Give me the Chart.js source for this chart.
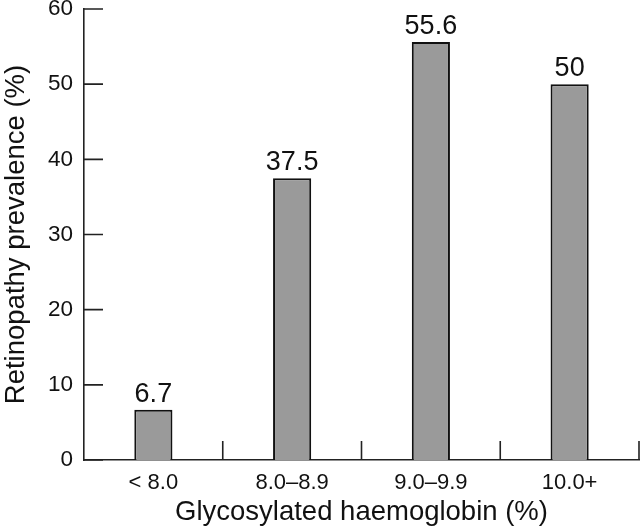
<!DOCTYPE html>
<html>
<head>
<meta charset="utf-8">
<script src="https://cdn.jsdelivr.net/npm/chart.js@4.4.1/dist/chart.umd.min.js"></script>
<style>
  html, body { margin: 0; padding: 0; background: #fff; }
  #wrap { width: 640px; height: 530px; }
</style>
</head>
<body>
<div id="wrap"><canvas id="retChart" width="640" height="530"></canvas></div>
<script>
// categories and values
const categories = ['< 8.0', '8.0\u20138.9', '9.0\u20139.9', '10.0+'];
const prevalence = [6.7, 37.5, 55.6, 50];
const valueLabels = ['6.7', '37.5', '55.6', '50'];
const yTicks = [0, 10, 20, 30, 40, 50, 60];

const FONT = "'Liberation Sans', Arial, Helvetica, sans-serif";

// inward tick marks + value labels over the bars
const ticksAndLabels = {
    id: 'ticksAndLabels',
    afterDraw(chart) {
        const ctx = chart.ctx;
        const area = chart.chartArea;
        const x = chart.scales.x;
        const y = chart.scales.y;
        ctx.save();
        ctx.strokeStyle = '#222';
        ctx.lineWidth = 1.6;
        ctx.beginPath();
        yTicks.forEach(v => {
            const py = y.getPixelForValue(v);
            ctx.moveTo(area.left, py);
            ctx.lineTo(area.left + 19, py);
        });
        for (let i = 0; i < categories.length; i++) {
            const px = x.getPixelForValue(i + 0.5);
            ctx.moveTo(px, area.bottom);
            ctx.lineTo(px, area.bottom - 19);
        }
        ctx.stroke();

        ctx.fillStyle = '#111';
        ctx.font = '27px ' + FONT;
        ctx.textAlign = 'center';
        ctx.textBaseline = 'alphabetic';
        chart.getDatasetMeta(0).data.forEach((bar, i) => {
            ctx.fillText(valueLabels[i], bar.x, bar.y - 8);
        });
        ctx.restore();
    }
};

const ctx = document.getElementById('retChart').getContext('2d');
const retChart = new Chart(ctx, {
    type: 'bar',
    data: {
        labels: categories,
        datasets: [{
            data: prevalence,
            backgroundColor: '#9a9a9a',
            borderColor: '#111',
            borderWidth: 2,
            borderSkipped: 'bottom',
            categoryPercentage: 1,
            barPercentage: 0.275
        }]
    },
    options: {
        responsive: false,
        animation: false,
        devicePixelRatio: 1,
        layout: { padding: { top: 9, right: 1, left: 0, bottom: 0 } },
        plugins: {
            legend: { display: false },
            tooltip: { enabled: false }
        },
        scales: {
            x: {
                offset: true,
                grid: { display: false, drawTicks: false },
                border: { display: true, color: '#222', width: 1.6 },
                ticks: {
                    color: '#111',
                    font: { family: FONT, size: 22 },
                    padding: 10,
                    maxRotation: 0
                },
                title: {
                    display: true,
                    text: 'Glycosylated haemoglobin (%)',
                    color: '#111',
                    font: { family: FONT, size: 27.5 },
                    padding: { top: 0, bottom: 1 }
                },
                afterFit(scale) {
                    scale.height = 70;
                    scale.paddingLeft = 0;
                    scale.paddingRight = 0;
                }
            },
            y: {
                min: 0,
                max: 60,
                grid: { display: false, drawTicks: false },
                border: { display: true, color: '#222', width: 1.6 },
                ticks: {
                    stepSize: 10,
                    color: '#111',
                    font: { family: FONT, size: 22.5 },
                    padding: 11
                },
                title: {
                    display: true,
                    text: 'Retinopathy prevalence (%)',
                    color: '#111',
                    font: { family: FONT, size: 27.5 },
                    padding: 0
                },
                afterFit(scale) {
                    scale.width = 84;
                    scale.paddingTop = 0;
                    scale.paddingBottom = 0;
                }
            }
        }
    },
    plugins: [ticksAndLabels]
});
</script>
</body>
</html>
